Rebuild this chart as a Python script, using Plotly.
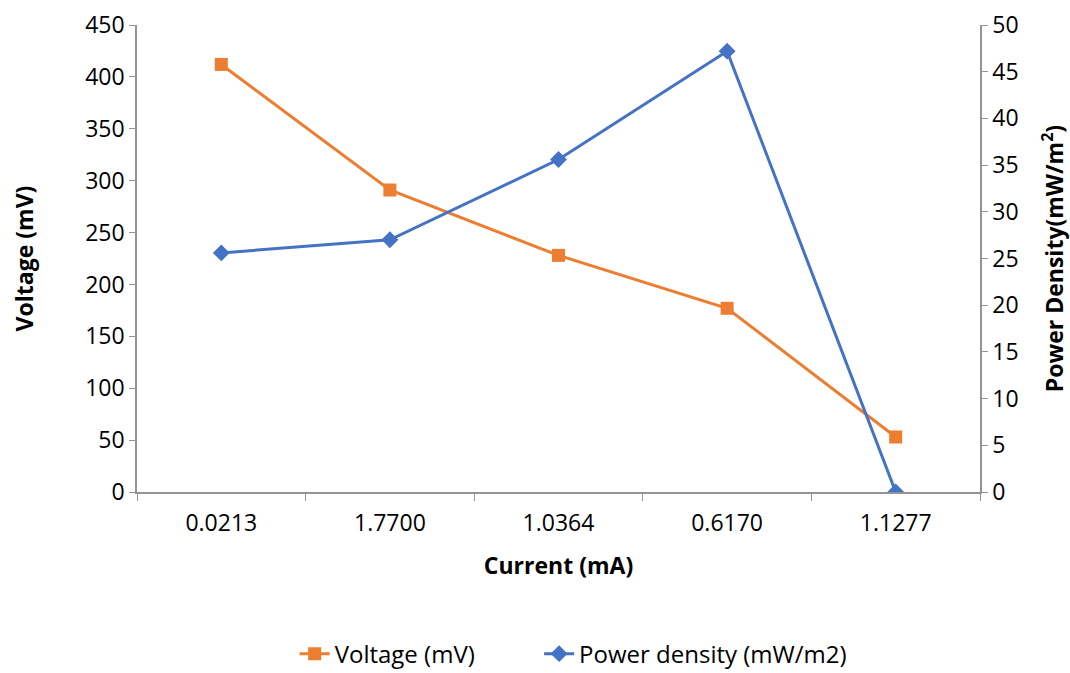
import plotly.graph_objects as go

categories = ["0.0213", "1.7700", "1.0364", "0.6170", "1.1277"]
voltage_mv = [412, 291, 228, 177, 53]
power_density = [25.6, 27.0, 35.6, 47.2, 0.0]

font_family = "Open Sans"
axis_color = "#939393"

fig = go.Figure()
fig.add_trace(go.Scatter(
    x=categories, y=voltage_mv, name="Voltage (mV)", mode="lines+markers",
    line=dict(color="#ED7D31", width=3),
    marker=dict(symbol="square", size=13, color="#ED7D31"),
    yaxis="y", legend="legend"))
fig.add_trace(go.Scatter(
    x=categories, y=power_density, name="Power density (mW/m2)", mode="lines+markers",
    line=dict(color="#4472C4", width=3),
    marker=dict(symbol="diamond", size=13, color="#4472C4"),
    yaxis="y2", legend="legend2"))

legend_common = dict(orientation="h", xanchor="left", y=-0.347, yanchor="middle",
                     font=dict(size=24), bgcolor="rgba(0,0,0,0)")

fig.update_layout(
    width=1070, height=673,
    margin=dict(l=137, r=90, t=25, b=181, autoexpand=False),
    paper_bgcolor="white", plot_bgcolor="white",
    font=dict(family=font_family, size=23, color="#000000"),
    showlegend=True,
    legend=dict(x=0.187, **legend_common),
    legend2=dict(x=0.477, **legend_common),
    xaxis=dict(
        type="category", range=[-0.5, 4.5], showgrid=False,
        showline=True, linecolor=axis_color, linewidth=1.5,
        ticks="outside", tickson="boundaries", ticklen=7, tickcolor=axis_color,
        ticklabelstandoff=10,
        tickfont=dict(size=23),
        title=dict(text="<b>Current (mA)</b>", font=dict(size=23), standoff=21),
    ),
    yaxis=dict(
        range=[0, 450], dtick=50, showgrid=False, zeroline=False,
        showline=True, linecolor=axis_color, linewidth=1.5,
        ticks="outside", ticklen=6, tickcolor=axis_color,
        tickfont=dict(size=23),
        title=dict(text="<b>Voltage (mV)</b>", font=dict(size=23), standoff=45),
    ),
    yaxis2=dict(
        range=[0, 50], dtick=5, showgrid=False, zeroline=False,
        overlaying="y", side="right",
        showline=True, linecolor=axis_color, linewidth=1.5,
        ticks="outside", ticklen=6, tickcolor=axis_color,
        tickfont=dict(size=23),
        title=dict(text="<b>Power Density(mW/m<sup>2</sup>)</b>", font=dict(size=23), standoff=38),
    ),
)

fig.write_html("out.html")
